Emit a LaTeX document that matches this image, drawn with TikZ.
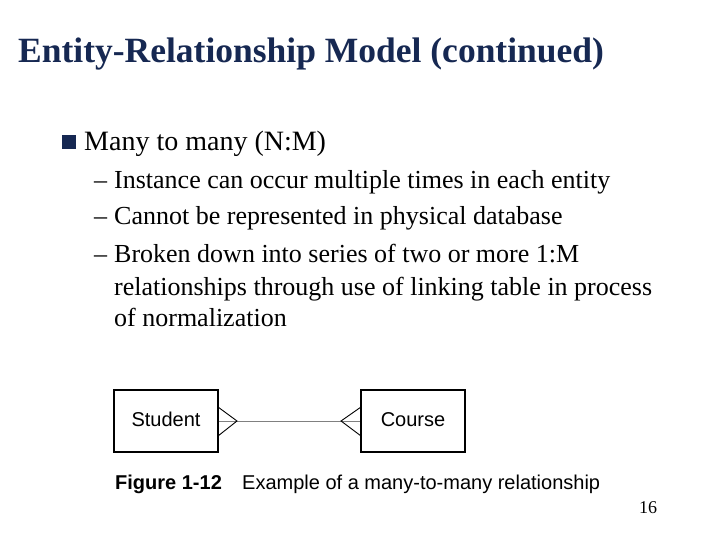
\documentclass[tikz,border=0pt]{standalone}
\usepackage{fontspec}
\setmainfont{Liberation Serif}
\newfontfamily\figfont{Liberation Sans}
\definecolor{titleblue}{RGB}{22,40,82}
\tikzset{
  entity/.style={draw,line width=1.2pt,minimum width=104pt,minimum height=62pt,text height=14pt,text depth=4pt,font=\figfont\fontsize{20}{24}\selectfont},
  crow/.style={draw,line width=0.9pt},
  txt/.style={anchor=base west,inner sep=0pt}
}
\begin{document}
\begin{tikzpicture}[x=1pt,y=-1pt]
  \useasboundingbox (0,0) rectangle (720,540);
  \node[txt,font=\bfseries\fontsize{35.5}{40}\selectfont,text=titleblue] (title) at (18,63) {Entity-Relationship Model (continued)};
  \node[fill=titleblue,minimum size=14pt,inner sep=0pt] (box) at (69,142) {};
  \node[txt,font=\fontsize{28}{32}\selectfont] (many) at (84,151) {Many to many (N:M)};
  \foreach \yy/\ltext in {189/Instance can occur multiple times in each entity,
                       225/Cannot be represented in physical database,
                       262/Broken down into series of two or more 1:M}{
    \node[txt,font=\fontsize{26}{30}\selectfont] at (94,\yy) {--};
    \node[txt,font=\fontsize{26}{30}\selectfont] at (114,\yy) {\ltext};
  }
  \node[txt,font=\fontsize{26}{30}\selectfont] (l4) at (114,295) {relationships through use of linking table in process};
  \node[txt,font=\fontsize{26}{30}\selectfont] (l5) at (114,326) {of normalization};
  % figure
  \node[entity] (student) at (166,421) {Student};
  \node[entity] (course) at (413,421) {Course};
  \coordinate (sp) at (237,421);
  \coordinate (cp) at (341,421);
  \draw[gray,line width=0.8pt] (student.east) -- (course.west);
  \draw[crow] (218,407) -- (sp) -- (218,436);
  \draw[crow] (361,407) -- (cp) -- (361,436);
  \node[txt,font=\figfont\bfseries\fontsize{20}{24}\selectfont] (fig) at (115,489) {Figure 1-12};
  \node[txt,font=\figfont\fontsize{20}{24}\selectfont] (cap) at (242,489) {Example of a many-to-many relationship};
  \node[txt,font=\fontsize{18}{20}\selectfont] (num) at (639,513) {16};
\end{tikzpicture}
\end{document}
